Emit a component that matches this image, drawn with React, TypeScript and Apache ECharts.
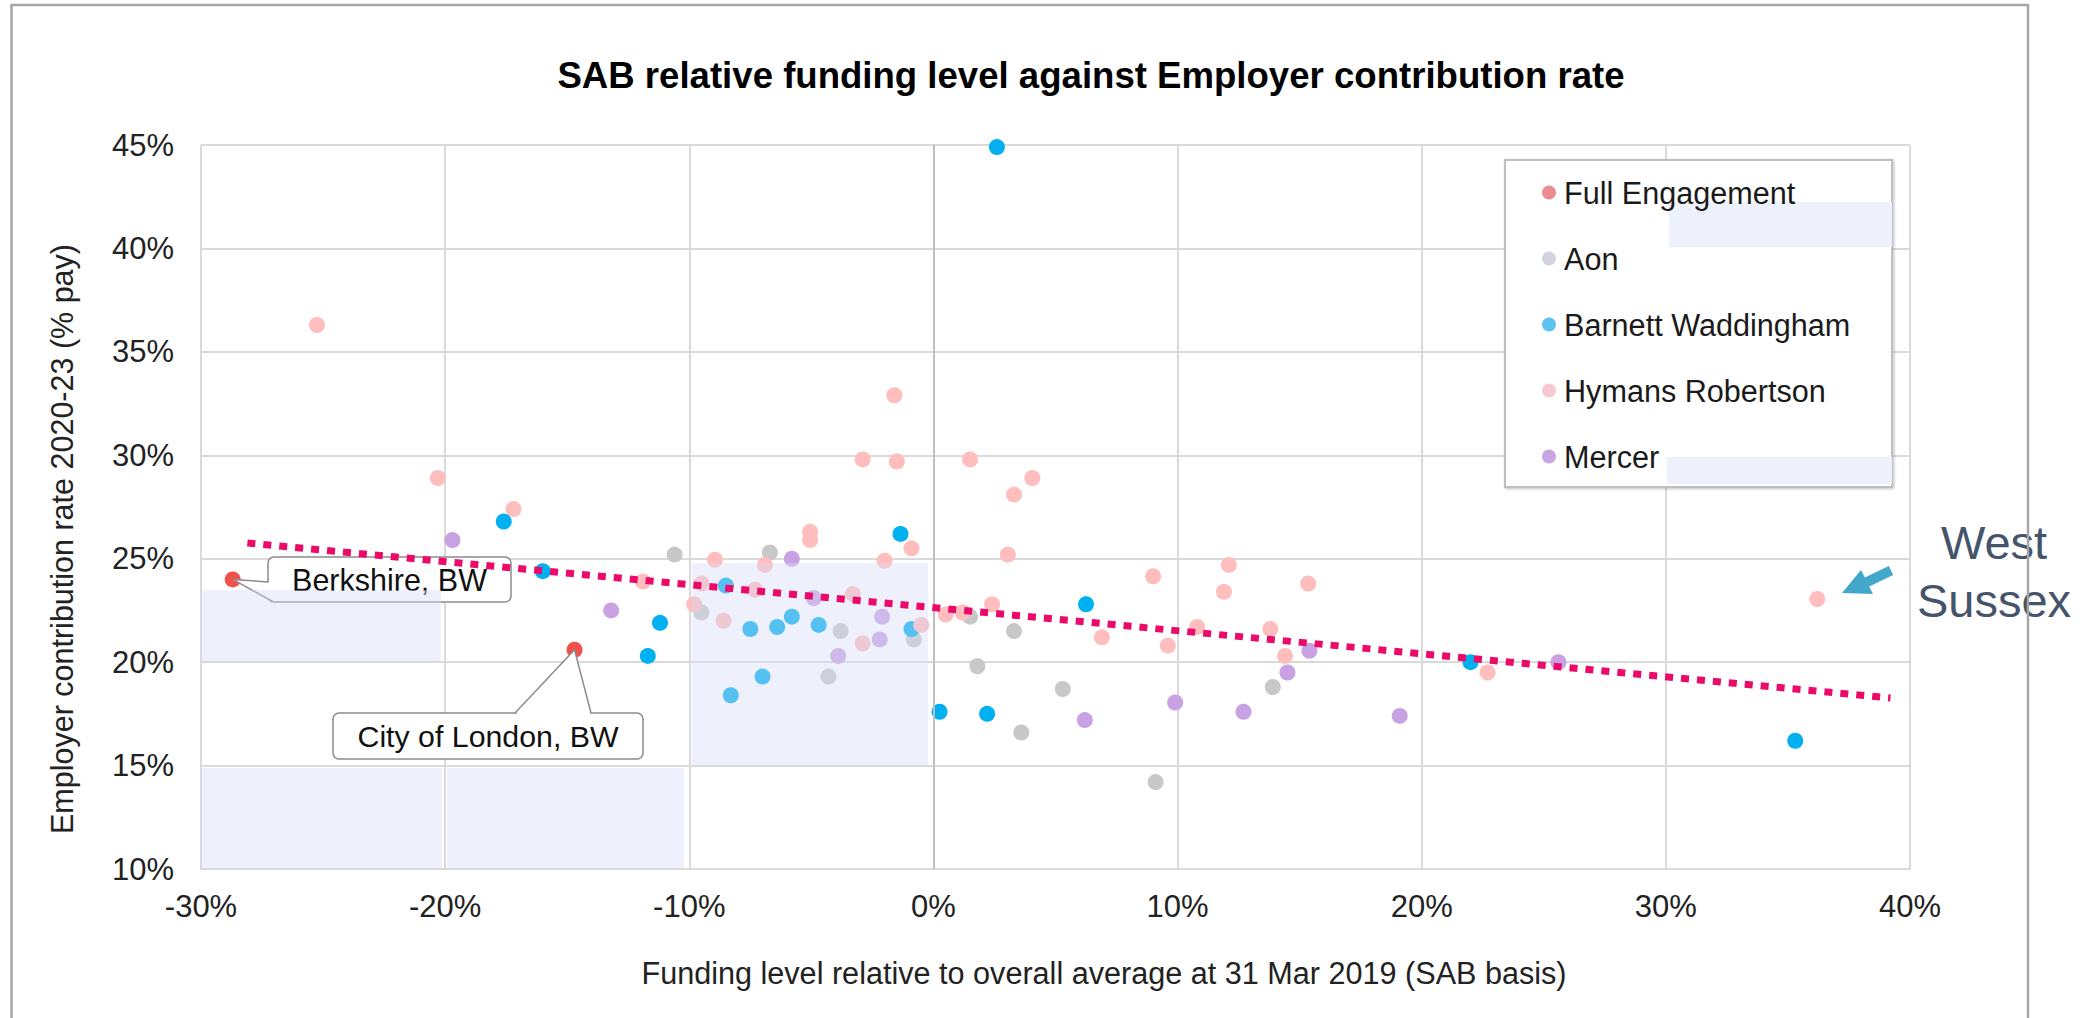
import React, { useEffect, useRef } from "react";
import * as echarts from "echarts";

const FONT = '"Liberation Sans", Arial, Helvetica, sans-serif';

const titleText = "SAB relative funding level against Employer contribution rate";
const xAxisTitle = "Funding level relative to overall average at 31 Mar 2019 (SAB basis)";
const yAxisTitle = "Employer contribution rate 2020-23 (% pay)";

const seriesNames = ["Full Engagement", "Aon", "Barnett Waddingham", "Hymans Robertson", "Mercer"];
const pointColors = ["#F4504B", "#C8C8C8", "#00B0F0", "#FFBDBD", "#C8A2E3"];
const legendColors = ["#EE8A93", "#D3D5DE", "#5BC4F1", "#F5CAD3", "#C9A5E4"];

const xRange = { min: -30, max: 40, step: 10 };
const yRange = { min: 10, max: 45, step: 5 };

const fullEngagement = [
  [-28.7, 24.0],
  [-14.7, 20.6],
];
const calloutLabels = ["Berkshire, BW", "City of London, BW"];

const aon = [
  [-10.6, 25.2], [-9.5, 22.4], [-6.7, 25.3], [-3.8, 21.5], [-4.3, 19.3], [-0.8, 21.1],
  [1.5, 22.2], [3.3, 21.5], [1.8, 19.8], [5.3, 18.7], [3.6, 16.6], [9.1, 14.2], [13.9, 18.8],
];

const barnett = [
  [2.6, 44.9], [-17.6, 26.8], [-16.0, 24.4], [-11.2, 21.9], [-11.7, 20.3], [-8.5, 23.7],
  [-7.5, 21.6], [-8.3, 18.4], [-6.4, 21.7], [-5.8, 22.2], [-7.0, 19.3], [-4.7, 21.8],
  [-1.35, 26.2], [-0.9, 21.6], [0.25, 17.6], [2.2, 17.5], [6.25, 22.8], [22.0, 20.0], [35.3, 16.2],
];

const hymans = [
  [-25.25, 36.3], [-20.3, 28.9], [-17.2, 27.4], [-11.9, 23.9], [-9.8, 22.8], [-9.5, 23.8],
  [-8.95, 24.95], [-8.6, 22.0], [-7.3, 23.5], [-6.9, 24.7], [-5.05, 26.3], [-5.05, 25.9],
  [-3.3, 23.3], [-2.9, 20.9], [-2.9, 29.8], [-2.0, 24.9], [-1.6, 32.9], [-1.5, 29.7],
  [-0.9, 25.5], [-0.5, 21.8], [0.5, 22.3], [1.2, 22.4], [1.5, 29.8], [2.4, 22.8],
  [3.05, 25.2], [3.3, 28.1], [4.05, 28.9], [6.9, 21.2], [9.0, 24.15], [9.6, 20.8],
  [10.8, 21.7], [11.9, 23.4], [12.1, 24.7], [13.8, 21.6], [14.4, 20.3], [15.35, 23.8],
  [22.7, 19.5], [36.2, 23.05],
];

const mercer = [
  [-19.7, 25.9], [-13.2, 22.5], [-5.8, 25.0], [-4.9, 23.1], [-3.9, 20.3], [-2.1, 22.2],
  [-2.2, 21.1], [6.2, 17.2], [9.9, 18.05], [12.7, 17.6], [14.5, 19.5], [15.4, 20.55],
  [19.1, 17.4], [25.6, 20.0],
];

const trendLine = [
  [-28.1, 25.76],
  [39.2, 18.27],
];

const allSeriesData = [fullEngagement, aon, barnett, hymans, mercer];

export default function App() {
  const ref = useRef<HTMLDivElement>(null);

  useEffect(() => {
    if (!ref.current) return;
    const chart = echarts.init(ref.current, undefined, { renderer: "svg" });

    const scatterSeries = allSeriesData.map((data, i) => ({
      name: seriesNames[i],
      type: "scatter",
      data,
      symbol: "circle",
      symbolSize: 16,
      itemStyle: { color: pointColors[i], opacity: 1 },
      z: 2,
      silent: true,
      ...(i === 0
        ? {
            markLine: {
              silent: true,
              symbol: "none",
              label: { show: false },
              lineStyle: { color: "#BFBFBF", width: 2, type: "solid" },
              data: [{ xAxis: 0 }],
            },
          }
        : {}),
    }));

    chart.setOption({
      animation: false,
      backgroundColor: "#ffffff",
      title: {
        text: titleText,
        left: 1091,
        top: 57,
        padding: 0,
        textAlign: "center",
        textStyle: { fontFamily: FONT, fontSize: 36.6, fontWeight: "bold", color: "#000000" },
      },
      grid: { left: 201, top: 145, width: 1709, height: 724, containLabel: false },
      xAxis: {
        type: "value",
        min: xRange.min,
        max: xRange.max,
        interval: xRange.step,
        axisLine: { show: true, lineStyle: { color: "#D9D9D9", width: 2 } },
        axisTick: { show: false },
        axisLabel: {
          margin: 22,
          fontFamily: FONT,
          fontSize: 31,
          color: "#222222",
          formatter: (v: number) => `${v}%`,
        },
        splitLine: { show: true, lineStyle: { color: "#DADADA", width: 2 } },
      },
      yAxis: {
        type: "value",
        min: yRange.min,
        max: yRange.max,
        interval: yRange.step,
        axisLine: { show: false },
        axisTick: { show: false },
        axisLabel: {
          margin: 27,
          fontFamily: FONT,
          fontSize: 31,
          color: "#222222",
          formatter: (v: number) => `${v}%`,
        },
        splitLine: { show: true, lineStyle: { color: "#DADADA", width: 2 } },
      },
      legend: {
        orient: "vertical",
        left: 1542,
        top: 177,
        padding: 0,
        itemGap: 35,
        itemWidth: 20,
        itemHeight: 14,
        icon: "circle",
        selectedMode: false,
        z: 7,
        textStyle: { fontFamily: FONT, fontSize: 30.6, lineHeight: 30, color: "#1A1A1A" },
        data: seriesNames.map((n, i) => ({ name: n, itemStyle: { color: legendColors[i] } })),
      },
      series: [
        ...scatterSeries,
        {
          name: "Trend",
          type: "line",
          data: trendLine,
          symbol: "none",
          showSymbol: false,
          silent: true,
          z: 5,
          lineStyle: { color: "#EB0A6A", width: 7, type: [8, 8], cap: "butt" },
        },
      ],
    });

    const [bx, by] = chart.convertToPixel({ gridIndex: 0 }, fullEngagement[0]) as number[];
    const [cx, cy] = chart.convertToPixel({ gridIndex: 0 }, fullEngagement[1]) as number[];

    const overlay = "rgba(212,220,248,0.4)";
    const plotOverlays = [
      [201, 590, 240, 72],
      [201, 768, 241, 101],
      [447, 768, 237, 101],
      [692, 563, 236, 202],
    ];
    const legendOverlays = [
      [1669, 202, 223, 45],
      [1667, 457, 225, 27],
    ];

    const txt = (text: string, x: number, y: number, size: number, color: string, extra: any = {}) => ({
      type: "text",
      x,
      y,
      silent: true,
      ...extra,
      style: {
        text,
        fontFamily: FONT,
        fontSize: size,
        fill: color,
        align: "center",
        verticalAlign: "middle",
        textAlign: "center",
        textVerticalAlign: "middle",
      },
    });

    const elements: any[] = [
      ...plotOverlays.map(([x, y, w, h]) => ({
        type: "rect",
        silent: true,
        z: 4,
        shape: { x, y, width: w, height: h },
        style: { fill: overlay },
      })),
      {
        type: "rect",
        silent: true,
        z: 6,
        shape: { x: 1505, y: 160, width: 387, height: 327 },
        style: {
          fill: "#ffffff",
          stroke: "#BFBFBF",
          lineWidth: 2,
          shadowBlur: 3,
          shadowOffsetX: 1,
          shadowOffsetY: 1,
          shadowColor: "rgba(0,0,0,0.25)",
        },
      },
      ...legendOverlays.map(([x, y, w, h]) => ({
        type: "rect",
        silent: true,
        z: 6.5,
        shape: { x, y, width: w, height: h },
        style: { fill: "#EEF1FC" },
      })),
      {
        type: "rect",
        silent: true,
        z: 3,
        shape: { x: 268, y: 557, width: 243, height: 45, r: 6 },
        style: { fill: "#ffffff", stroke: "#8C8C8C", lineWidth: 1.5 },
      },
      {
        type: "polygon",
        silent: true,
        z: 3,
        shape: { points: [[267, 582.5], [bx, by], [272.5, 601], [276, 601], [276, 582.5]] },
        style: { fill: "#ffffff" },
      },
      {
        type: "polyline",
        silent: true,
        z: 3,
        shape: { points: [[268, 582], [bx, by], [272.5, 601.5]] },
        style: { stroke: "#8C8C8C", lineWidth: 1.5, fill: "none" },
      },
      txt(calloutLabels[0], 389.5, 580, 30.5, "#111111", { z: 3 }),
      {
        type: "rect",
        silent: true,
        z: 3,
        shape: { x: 333, y: 713, width: 310, height: 46, r: 6 },
        style: { fill: "#ffffff", stroke: "#8C8C8C", lineWidth: 1.5 },
      },
      {
        type: "polygon",
        silent: true,
        z: 3,
        shape: { points: [[517, 716], [516.5, 712], [cx, cy], [590.5, 712], [590, 716]] },
        style: { fill: "#ffffff" },
      },
      {
        type: "polyline",
        silent: true,
        z: 3,
        shape: { points: [[515, 713], [cx, cy], [591, 713]] },
        style: { stroke: "#8C8C8C", lineWidth: 1.5, fill: "none" },
      },
      txt(calloutLabels[1], 488, 736, 30.3, "#111111", { z: 3 }),
      txt(xAxisTitle, 1104, 973, 30.6, "#222222", { z: 3 }),
      txt(yAxisTitle, 62, 539, 30.5, "#222222", { z: 3, rotation: Math.PI / 2 }),
      {
        type: "polygon",
        silent: true,
        z: 3,
        shape: {
          points: [
            [1842, 593],
            [1861, 570],
            [1864.8, 577.5],
            [1888.8, 566],
            [1893.2, 575],
            [1869.2, 586.5],
            [1873, 594],
          ],
        },
        style: { fill: "#41A8CC" },
      },
      txt("West", 1994, 542.5, 47, "#44546A", { z: 3 }),
      txt("Sussex", 1994, 600, 47, "#44546A", { z: 3 }),
      {
        type: "polyline",
        silent: true,
        z: 8,
        shape: { points: [[11.5, 1030], [11.5, 5], [2028, 5], [2028, 1030]] },
        style: { stroke: "#A6A6A6", lineWidth: 2.5, fill: "none" },
      },
    ];

    chart.setOption({ graphic: { elements } });

    return () => chart.dispose();
  }, []);

  return (
    <div
      ref={ref}
      style={{ position: "absolute", left: 0, top: 0, width: 2093, height: 1018, background: "#ffffff" }}
    />
  );
}
